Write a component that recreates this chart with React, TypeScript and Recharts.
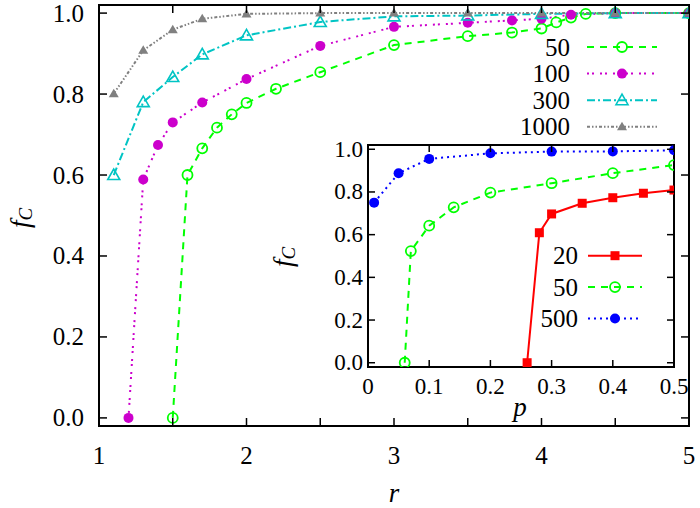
import React from 'react';
import { LineChart, Line, XAxis, YAxis, ReferenceArea, Legend } from 'recharts';

const FONT = "'Liberation Serif', 'Times New Roman', 'DejaVu Serif', serif";
const TXT = (size: number, italic = false): React.CSSProperties => ({
  fontFamily: FONT,
  fontSize: size,
  fontStyle: italic ? 'italic' : 'normal',
});

// ---- main chart data (r vs f_C) ----
const r50 = [1.5, 1.6, 1.7, 1.8, 1.9, 2.0, 2.2, 2.5, 3.0, 3.5, 3.8, 4.0, 4.1, 4.2, 4.3, 4.5, 5.0];
const f50 = [0, 0.6, 0.666, 0.717, 0.75, 0.778, 0.813, 0.854, 0.921, 0.943, 0.952, 0.962, 0.977, 0.989, 0.998, 1.0, 1.0];
const r100 = [1.2, 1.3, 1.4, 1.5, 1.7, 2.0, 2.5, 3.0, 3.5, 3.8, 4.0, 4.2, 4.5, 5.0];
const f100 = [0, 0.589, 0.674, 0.73, 0.779, 0.837, 0.919, 0.966, 0.976, 0.982, 0.986, 0.996, 1.0, 1.0];
const r300 = [1.1, 1.3, 1.5, 1.7, 2.0, 2.5, 3.0, 3.5, 4.0, 4.5, 5.0];
const f300 = [0.6, 0.78, 0.842, 0.898, 0.945, 0.978, 0.992, 0.994, 0.998, 1.0, 1.0];
const r1000 = [1.1, 1.3, 1.5, 1.7, 2.0, 2.5, 3.0, 3.5, 4.0, 4.5, 5.0];
const f1000 = [0.801, 0.908, 0.959, 0.986, 0.998, 1.0, 1.0, 1.0, 1.0, 1.0, 1.0];
const mainLabels = ['50', '100', '300', '1000'];
const mainXTicks = [1, 1.5, 2, 2.5, 3, 3.5, 4, 4.5, 5];
const mainYTicks = [0, 0.2, 0.4, 0.6, 0.8, 1.0];

// ---- inset data (p vs f_C) ----
const p20 = [0.26, 0.28, 0.3, 0.35, 0.4, 0.45, 0.5];
const g20 = [0, 0.609, 0.697, 0.747, 0.773, 0.794, 0.809];
const p50 = [0.06, 0.07, 0.1, 0.14, 0.2, 0.3, 0.4, 0.5];
const g50 = [0, 0.523, 0.642, 0.728, 0.797, 0.841, 0.888, 0.926];
const p500 = [0.01, 0.05, 0.1, 0.2, 0.3, 0.4, 0.5];
const g500 = [0.75, 0.888, 0.955, 0.981, 0.989, 0.99, 0.995];
const insetLabels = ['20', '50', '500'];
const insetXTicks = [0, 0.1, 0.2, 0.3, 0.4, 0.5];
const insetYTicks = [0, 0.2, 0.4, 0.6, 0.8, 1.0];

const zip = (xs: number[], ys: number[]) => xs.map((x, i) => ({ x, y: ys[i] }));

type Shape = 'openCircle' | 'filledCircle' | 'openTriangle' | 'filledTriangle' | 'filledSquare';

function Marker({ cx, cy, shape, color }: { cx: number; cy: number; shape: Shape; color: string }) {
  if (cx == null || cy == null || isNaN(cx) || isNaN(cy)) return <g />;
  switch (shape) {
    case 'openCircle':
      return <circle cx={cx} cy={cy} r={5} fill="none" stroke={color} strokeWidth={1.8} />;
    case 'filledCircle':
      return <circle cx={cx} cy={cy} r={5} fill={color} stroke="none" />;
    case 'openTriangle':
      return (
        <polygon
          points={`${cx},${cy - 6} ${cx - 6},${cy + 4.5} ${cx + 6},${cy + 4.5}`}
          fill="none"
          stroke={color}
          strokeWidth={1.6}
        />
      );
    case 'filledTriangle':
      return <polygon points={`${cx},${cy - 5} ${cx - 5},${cy + 3.5} ${cx + 5},${cy + 3.5}`} fill={color} />;
    case 'filledSquare':
      return <rect x={cx - 4.5} y={cy - 4.5} width={9} height={9} fill={color} />;
  }
  return <g />;
}

const mainSeries = [
  { name: mainLabels[0], data: zip(r50, f50), color: '#00ff00', dash: '7 6', width: 2, shape: 'openCircle' as Shape },
  { name: mainLabels[1], data: zip(r100, f100), color: '#cc00cc', dash: '2 3 2 6', width: 2, shape: 'filledCircle' as Shape },
  { name: mainLabels[2], data: zip(r300, f300), color: '#00c4c4', dash: '8 3 2 3', width: 2, shape: 'openTriangle' as Shape },
  { name: mainLabels[3], data: zip(r1000, f1000), color: '#808080', dash: '3 2 1.5 2 1.5 2', width: 2, shape: 'filledTriangle' as Shape },
];

const insetSeries = [
  { name: insetLabels[0], data: zip(p20, g20), color: '#ff0000', dash: undefined, width: 2, shape: 'filledSquare' as Shape },
  { name: insetLabels[1], data: zip(p50, g50), color: '#00ff00', dash: '7 6', width: 2, shape: 'openCircle' as Shape },
  { name: insetLabels[2], data: zip(p500, g500), color: '#0000ff', dash: '2 4', width: 2, shape: 'filledCircle' as Shape },
];

const MAIN_W = 590;
const MAIN_H = 421;
const INSET_W = 306;
const INSET_H = 222;

const MainYTick = (props: any) => {
  const { x, y, payload } = props;
  return (
    <g>
      <line x1={x} x2={x + 8} y1={y} y2={y} stroke="#000" strokeWidth={1.5} />
      <line x1={x + MAIN_W - 8} x2={x + MAIN_W} y1={y} y2={y} stroke="#000" strokeWidth={1.5} />
      <text x={x - 15} y={y} textAnchor="end" dominantBaseline="central" style={TXT(25)} fill="#000">
        {Number(payload.value).toFixed(1)}
      </text>
    </g>
  );
};

const MainXTick = (props: any) => {
  const { x, y, payload } = props;
  const v = Number(payload.value);
  return (
    <g>
      <line x1={x} x2={x} y1={y} y2={y - 8} stroke="#000" strokeWidth={1.5} />
      <line x1={x} x2={x} y1={y - MAIN_H} y2={y - MAIN_H + 8} stroke="#000" strokeWidth={1.5} />
      {Number.isInteger(v) && (
        <text x={x} y={y + 29} textAnchor="middle" dominantBaseline="central" style={TXT(25)} fill="#000">
          {String(v)}
        </text>
      )}
    </g>
  );
};

const InsetYTick = (props: any) => {
  const { x, y, payload } = props;
  return (
    <g>
      <line x1={x} x2={x + 7} y1={y} y2={y} stroke="#000" strokeWidth={1.5} />
      <line x1={x + INSET_W - 7} x2={x + INSET_W} y1={y} y2={y} stroke="#000" strokeWidth={1.5} />
      <text x={x - 5} y={y} textAnchor="end" dominantBaseline="central" style={TXT(23)} fill="#000">
        {Number(payload.value).toFixed(1)}
      </text>
    </g>
  );
};

const InsetXTick = (props: any) => {
  const { x, y, payload } = props;
  const v = Number(payload.value);
  return (
    <g>
      <line x1={x} x2={x} y1={y} y2={y - 7} stroke="#000" strokeWidth={1.5} />
      <line x1={x} x2={x} y1={y - INSET_H} y2={y - INSET_H + 7} stroke="#000" strokeWidth={1.5} />
      <text x={x} y={y + 19} textAnchor="middle" dominantBaseline="central" style={TXT(23)} fill="#000">
        {String(v)}
      </text>
    </g>
  );
};

const FcLabel = ({ cx, cy }: { cx: number; cy: number }) => (
  <text
    x={cx}
    y={cy}
    transform={`rotate(-90, ${cx}, ${cy})`}
    textAnchor="middle"
    dominantBaseline="central"
    style={TXT(27, true)}
    fill="#000"
  >
    <tspan>f</tspan>
    <tspan style={TXT(19, true)} dy={5}>
      C
    </tspan>
  </text>
);

function LegendBox({
  series,
  textRight,
  lineStart,
  lineEnd,
  top,
  gap,
  w,
  h,
}: {
  series: typeof mainSeries;
  textRight: number;
  lineStart: number;
  lineEnd: number;
  top: number;
  gap: number;
  w: number;
  h: number;
}) {
  return (
    <svg width={w} height={h} style={{ display: 'block', overflow: 'visible' }}>
      {series.map((s, i) => {
        const y = top + i * gap;
        const mid = (lineStart + lineEnd) / 2;
        return (
          <g key={s.name}>
            <text x={textRight} y={y} textAnchor="end" dominantBaseline="central" style={TXT(25)} fill="#000">
              {s.name}
            </text>
            <line x1={lineStart} x2={lineEnd} y1={y} y2={y} stroke={s.color} strokeWidth={s.width} strokeDasharray={s.dash} />
            <Marker cx={mid} cy={y} shape={s.shape} color={s.color} />
          </g>
        );
      })}
    </svg>
  );
}

export default function App() {
  return (
    <div style={{ position: 'absolute', left: 0, top: 0, width: 700, height: 508, background: '#fff' }}>
      <div style={{ position: 'absolute', left: 0, top: 0 }}>
        <LineChart width={700} height={508} margin={{ top: 5, right: 11, bottom: 32, left: 0 }}>
          <XAxis
            type="number"
            dataKey="x"
            domain={[1, 5]}
            ticks={mainXTicks}
            interval={0}
            allowDataOverflow
            axisLine={false}
            tickLine={false}
            tickSize={0}
            tickMargin={0}
            height={50}
            tick={<MainXTick />}
            label={{ content: () => (
              <text x={394} y={493} textAnchor="middle" dominantBaseline="central" style={TXT(27, true)} fill="#000">
                r
              </text>
            ) }}
          />
          <YAxis
            type="number"
            domain={[-0.02, 1.02]}
            ticks={mainYTicks}
            interval={0}
            allowDataOverflow
            axisLine={false}
            tickLine={false}
            tickSize={0}
            tickMargin={0}
            width={99}
            tick={<MainYTick />}
            label={{ content: () => <FcLabel cx={20} cy={218} /> }}
          />
          <ReferenceArea x1={1} x2={5} y1={-0.02} y2={1.02} fill="none" stroke="#000" strokeWidth={2} ifOverflow="visible" />
          {mainSeries.map((s) => (
            <Line
              key={s.name}
              name={s.name}
              data={s.data}
              dataKey="y"
              type="linear"
              stroke={s.color}
              strokeWidth={s.width}
              strokeDasharray={s.dash}
              isAnimationActive={false}
              dot={(p: any) => <Marker key={`${s.name}-${p.index}`} cx={p.cx} cy={p.cy} shape={s.shape} color={s.color} />}
              activeDot={false}
            />
          ))}
          <Legend
            layout="vertical"
            align="center"
            verticalAlign="middle"
            wrapperStyle={{ left: 480, top: 30, width: 200, height: 120 }}
            content={() => (
              <LegendBox series={mainSeries} textRight={90} lineStart={107} lineEnd={177} top={17} gap={26.6} w={200} h={120} />
            )}
          />
        </LineChart>
      </div>
      <div style={{ position: 'absolute', left: 260, top: 130 }}>
        <LineChart width={430} height={305} margin={{ top: 15, right: 16, bottom: 28, left: 0 }}>
          <XAxis
            type="number"
            dataKey="x"
            domain={[0, 0.5]}
            ticks={insetXTicks}
            interval={0}
            allowDataOverflow
            axisLine={false}
            tickLine={false}
            tickSize={0}
            tickMargin={0}
            height={40}
            tick={<InsetXTick />}
            label={{ content: () => (
              <text x={260} y={277} textAnchor="middle" dominantBaseline="central" style={TXT(27, true)} fill="#000">
                p
              </text>
            ) }}
          />
          <YAxis
            type="number"
            domain={[-0.02, 1.02]}
            ticks={insetYTicks}
            interval={0}
            allowDataOverflow
            axisLine={false}
            tickLine={false}
            tickSize={0}
            tickMargin={0}
            width={108}
            tick={<InsetYTick />}
            label={{ content: () => <FcLabel cx={23} cy={127} /> }}
          />
          <ReferenceArea x1={0} x2={0.5} y1={-0.02} y2={1.02} fill="#fff" stroke="#000" strokeWidth={2} ifOverflow="visible" />
          {insetSeries.map((s) => (
            <Line
              key={s.name}
              name={s.name}
              data={s.data}
              dataKey="y"
              type="linear"
              stroke={s.color}
              strokeWidth={s.width}
              strokeDasharray={s.dash}
              isAnimationActive={false}
              dot={(p: any) => <Marker key={`${s.name}-${p.index}`} cx={p.cx} cy={p.cy} shape={s.shape} color={s.color} />}
              activeDot={false}
            />
          ))}
          <Legend
            layout="vertical"
            align="center"
            verticalAlign="middle"
            wrapperStyle={{ left: 260, top: 100, width: 140, height: 110 }}
            content={() => (
              <LegendBox series={insetSeries} textRight={58} lineStart={68} lineEnd={122} top={25.7} gap={31.4} w={140} h={110} />
            )}
          />
        </LineChart>
      </div>
    </div>
  );
}
